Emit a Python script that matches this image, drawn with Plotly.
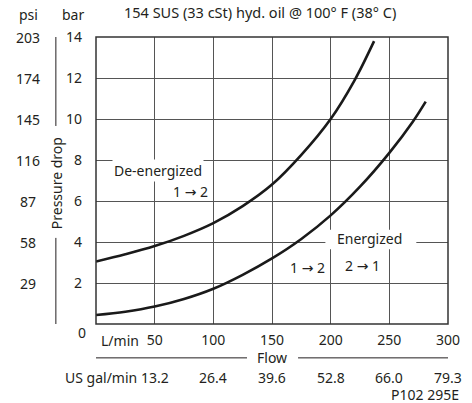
import plotly.graph_objects as go

# ---- data ----
flow_deenergized = [0, 25, 50, 75, 100, 125, 150, 175, 200, 220, 237]
bar_deenergized = [3.05, 3.4, 3.8, 4.3, 4.92, 5.75, 6.8, 8.25, 10.0, 11.85, 13.8]

flow_energized = [0, 25, 50, 75, 100, 125, 150, 175, 200, 225, 250, 270, 281]
bar_energized = [0.44, 0.6, 0.85, 1.22, 1.72, 2.4, 3.2, 4.15, 5.3, 6.7, 8.35, 9.87, 10.85]

x_ticks_lpm = [50, 100, 150, 200, 250, 300]
x_ticks_gpm = ["13.2", "26.4", "39.6", "52.8", "66.0", "79.3"]
y_ticks_bar = [2, 4, 6, 8, 10, 12, 14]
y_ticks_psi = ["29", "58", "87", "116", "145", "174", "203"]

FONT = "Noto Sans"
TXT = "#231f20"
FS = 14
ARROW = "<span style='font-family:DejaVu Sans'>→</span>"

fig = go.Figure()
for xs, ys in ((flow_deenergized, bar_deenergized), (flow_energized, bar_energized)):
    fig.add_trace(go.Scatter(x=xs, y=ys, mode="lines",
                             line=dict(color="#1a1a1a", width=2.6, shape="spline", smoothing=1),
                             hoverinfo="skip", showlegend=False))


def txt(x, y, text, xref="paper", yref="paper", xanchor="center", size=FS, **kw):
    d = dict(x=x, y=y, xref=xref, yref=yref, text=text, showarrow=False,
             xanchor=xanchor, yanchor="middle", font=dict(size=size, color=TXT, family=FONT))
    d.update(kw)
    return d


ann = []
for v, t in zip(y_ticks_bar, y_ticks_psi):
    ann.append(txt(-0.192, v, t, yref="y"))
for v, t in zip(x_ticks_lpm, x_ticks_gpm):
    ann.append(txt(v, -0.188, t, xref="x"))
ann += [
    txt(-0.192, 1.077, "psi"),
    txt(-0.064, 1.077, "bar"),
    txt(0.465, 1.088, "154 SUS (33 cSt) hyd. oil @ 100° F (38° C)", size=14.5),
    txt(-0.022, -0.031, "0", xanchor="right"),
    txt(0.008, -0.056, "L/min", xanchor="left"),
    txt(0.1226, -0.188, "US gal/min", xanchor="right"),
    txt(0.5, -0.118, "Flow"),
    txt(-0.114, 0.49, "Pressure drop", textangle=-90),
    txt(1.036, -0.247, "P102 295E", xanchor="right"),
    txt(13.4, 7.49, "De-energized", xref="x", yref="y", xanchor="left", bgcolor="white"),
    txt(63.5, 6.48, "1 " + ARROW + " 2", xref="x", yref="y", xanchor="left"),
    txt(233, 4.16, "Energized", xref="x", yref="y"),
    txt(163.8, 2.74, "1 " + ARROW + " 2", xref="x", yref="y", xanchor="left"),
    txt(210.6, 2.84, "2 " + ARROW + " 1", xref="x", yref="y", xanchor="left"),
]

line_style = dict(color=TXT, width=1)
shapes = [
    # Pressure drop bracket line, split around the label
    dict(type="line", xref="paper", yref="paper", x0=-0.114, x1=-0.114, y0=0.69, y1=1.0, line=line_style),
    dict(type="line", xref="paper", yref="paper", x0=-0.114, x1=-0.114, y0=0.0, y1=0.3, line=line_style),
    # Flow line, split around the label
    dict(type="line", xref="paper", yref="paper", x0=0, x1=0.429, y0=-0.118, y1=-0.118, line=line_style),
    dict(type="line", xref="paper", yref="paper", x0=0.574, x1=1.0, y0=-0.118, y1=-0.118, line=line_style),
    # white patch behind "Energized"
    dict(type="rect", xref="x", yref="y", x0=195.5, x1=273, y0=3.65, y1=4.6,
         fillcolor="white", line=dict(width=0), layer="between"),
    # frame
    dict(type="rect", xref="paper", yref="paper", x0=0, x1=1, y0=0, y1=1,
         line=dict(color="#333333", width=1.5), layer="above"),
]

fig.update_layout(
    width=472, height=403,
    margin=dict(l=96, r=17, t=37, b=79),
    paper_bgcolor="white", plot_bgcolor="white",
    font=dict(family=FONT, size=FS, color=TXT),
    annotations=ann, shapes=shapes,
    xaxis=dict(range=[0, 300], tickvals=x_ticks_lpm, showgrid=True, gridcolor="#555555",
               gridwidth=1, zeroline=False, showline=False, ticks="",
               ticklabelstandoff=6, tickfont=dict(size=FS, color=TXT, family=FONT)),
    yaxis=dict(range=[0, 14], tickvals=y_ticks_bar, showgrid=True, gridcolor="#555555",
               gridwidth=1, zeroline=False, showline=False, ticks="",
               ticklabelstandoff=13, tickfont=dict(size=FS, color=TXT, family=FONT)),
)

fig.write_html("out.html", config={"displayModeBar": False},
               post_script="document.body.style.margin='0';")
